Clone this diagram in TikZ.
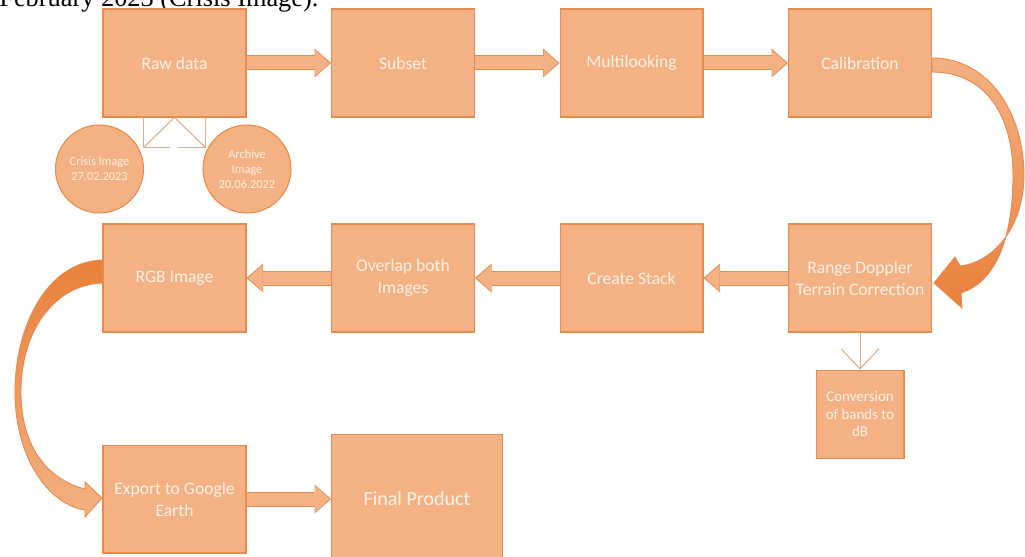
\documentclass[tikz,border=0pt]{standalone}
\usepackage{fontspec}
\setmainfont{Carlito}
\newfontfamily\capfont{Liberation Serif}
\usepackage{xcolor}
\usepackage{tikz}
\usetikzlibrary{positioning, calc, arrows.meta}
\definecolor{boxfill}{RGB}{244,177,131}
\definecolor{boxline}{RGB}{232,138,78}
\definecolor{boxtext}{RGB}{253,241,232}
\definecolor{arrowdark}{RGB}{233,128,58}
\definecolor{thinline}{RGB}{222,172,135}
\tikzset{
    stepbox/.style={
        draw=boxline, line width=0.6pt, fill=boxfill, text=boxtext,
        minimum width=2.86cm, minimum height=2.16cm, align=center,
        inner sep=1pt, font=\fontsize{10}{12.5}\selectfont
    },
    circbox/.style={
        circle, draw=boxline, line width=0.6pt, fill=boxfill, text=boxtext,
        minimum size=1.76cm, inner sep=0pt, align=center,
        font=\fontsize{7}{8.5}\selectfont
    },
    flowarrow/.style={
        draw=boxfill, line width=0.26cm, shorten >=0.03cm,
        -{Triangle[width=0.52cm, length=0.29cm, line width=0pt]},
        preaction={draw=boxline, line width=0.3cm, shorten >=0pt,
            -{Triangle[width=0.58cm, length=0.33cm, line width=0pt]}}
    },
    splitline/.style={
        draw=thinline, line width=0.6pt
    },
    curvearrow/.style={
        draw=boxline, line width=0.5pt
    }
}

\begin{document}
\begin{tikzpicture}[x=0.02cm, y=-0.02cm]
    \useasboundingbox (0,0) rectangle (1025,557);

    % caption line of the page, cut off at the top
    \node[anchor=base west, inner sep=0pt, font=\capfont\fontsize{15}{17}\selectfont] (caption) at (-1,7) {February 2023 (Crisis Image).};

    % --- TOP ROW ---
    \node[stepbox] (raw) at (174.5,63) {Raw data};
    \node[stepbox, right=1.69cm of raw] (subset) {Subset};
    \node[stepbox, right=1.69cm of subset] (multi) {Multilooking};
    \node[stepbox, right=1.69cm of multi] (calib) {Calibration};

    % --- SECOND ROW ---
    \node[stepbox, below=2.12cm of calib] (rdtc) {Range Doppler\\Terrain Correction};
    \node[stepbox, below=2.12cm of multi] (stack) {Create Stack};
    \node[stepbox, below=2.12cm of subset] (overlap) {Overlap both\\Images};
    \node[stepbox, below=2.12cm of raw] (rgb) {RGB Image};

    % --- BOTTOM ---
    \node[stepbox, below=2.24cm of rgb] (export) {Export to Google\\Earth};
    \node[stepbox, right=1.69cm of export, minimum width=3.42cm, minimum height=2.6cm,
        font=\fontsize{11.4}{13}\selectfont] (final) {Final Product};
    \node[stepbox, below=0.74cm of rdtc, minimum width=1.76cm, minimum height=1.76cm,
        font=\fontsize{8.5}{10}\selectfont] (conv) {Conversion\\of bands to\\dB};

    % input images
    \node[circbox] (crisis) at (99.5,169) {Crisis Image\\27.02.2023};
    \node[circbox] (archive) at (247,169) {Archive\\Image\\20.06.2022};

    % split under raw data
    \draw[splitline] ($(raw.south)+(-31,0)$) -- ++(0,30) -- ++(26,0);
    \draw[splitline] ($(raw.south)+(31,0)$) -- ++(0,30) -- ++(-28,0);
    \draw[splitline] ($(raw.south)+(-31,30)$) -- (raw.south) -- ($(raw.south)+(31,30)$);

    % straight arrows
    \draw[flowarrow] (raw.east) -- (subset.west);
    \draw[flowarrow] (subset.east) -- (multi.west);
    \draw[flowarrow] (multi.east) -- (calib.west);
    \draw[flowarrow] (rdtc.west) -- (stack.east);
    \draw[flowarrow] (stack.west) -- (overlap.east);
    \draw[flowarrow] (overlap.west) -- (rgb.east);
    \draw[flowarrow] (export.east) -- (final.west);
    \draw[splitline, -{Straight Barb[length=0.4cm, width=0.76cm]}] (rdtc.south) -- (conv.north);

    % curved arrow calibration -> range doppler
    \draw[curvearrow, top color=boxfill, bottom color=arrowdark]
        (932,58) .. controls (990,58) and (1024,115) .. (1024,175)
        .. controls (1024,225) and (995,262) .. (960,266)
        -- (955,257) -- (934,283) -- (962,308) -- (961,293)
        .. controls (1000,280) and (1013,230) .. (1013,175)
        .. controls (1013,115) and (985,72) .. (932,72) -- cycle;

    % curved arrow rgb image -> export
    \draw[curvearrow, top color=arrowdark, bottom color=boxfill]
        (102,260) .. controls (45,262) and (14,330) .. (15,395)
        .. controls (16,460) and (50,505) .. (85,510)
        -- (85,517) -- (102,498) -- (85,482) -- (85,489)
        .. controls (50,480) and (22,450) .. (21,395)
        .. controls (20,330) and (55,285) .. (102,283) -- cycle;
\end{tikzpicture}
\end{document}
